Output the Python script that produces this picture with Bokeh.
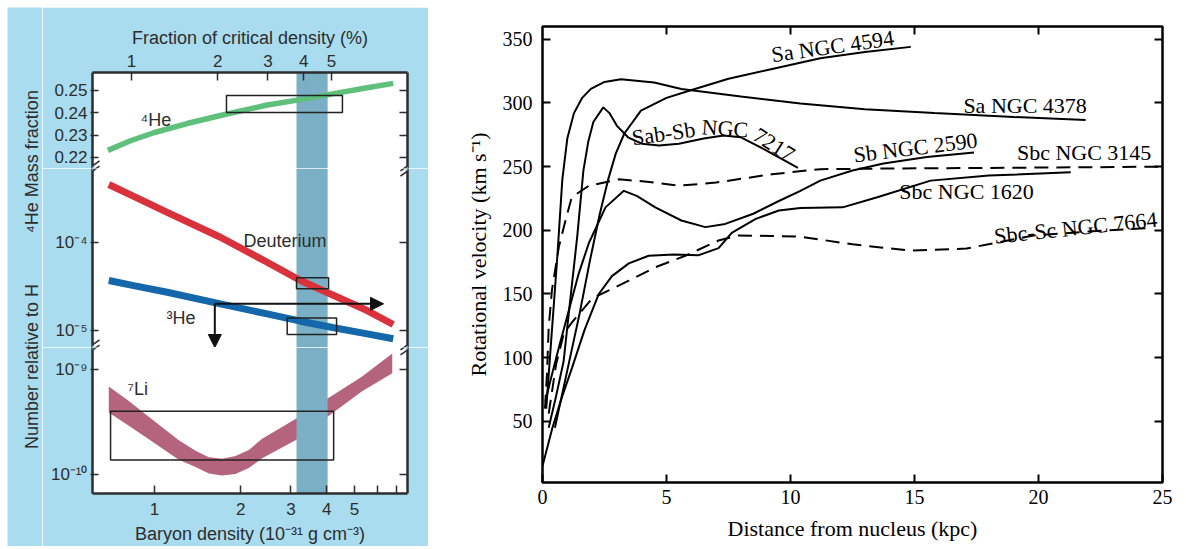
import math
import numpy as np
from bokeh.plotting import figure
from bokeh.layouts import row, column
from bokeh.models import (Range1d, LogScale, LinearAxis, LogAxis, FixedTicker,
                          CustomJSTickFormatter, BoxAnnotation, Arrow, NormalHead, Spacer)
from bokeh.embed import file_html
from bokeh.resources import INLINE
from bokeh.core.properties import value

# ---------------- data: left panel (big-bang nucleosynthesis) ----------------
he4_density = [0.687, 0.824, 1.0, 1.30, 1.70, 2.478, 3.239, 4.236, 5.543, 6.833]
he4_mass_fraction = [0.2232, 0.2275, 0.2312, 0.2352, 0.2388, 0.2435, 0.2459, 0.2486, 0.2512, 0.2532]

dh_density = [0.692, 0.846, 1.108, 1.70, 2.478, 3.239, 4.236, 5.543, 6.833]
deuterium = [4.56e-4, 3.35e-4, 2.20e-4, 1.148e-4, 5.97e-5, 3.70e-5, 2.50e-5, 1.686e-5, 1.17e-5]
helium3 = [3.70e-5, 3.24e-5, 2.72e-5, 2.01e-5, 1.545e-5, 1.276e-5, 1.074e-5, 9.16e-6, 8.05e-6]

li_density = [0.692, 0.813, 0.930, 1.216, 1.391, 1.549, 1.724, 1.919, 2.137, 2.379, 3.112, 4.07, 5.32, 6.78]
li7_upper = [6.85e-10, 4.99e-10, 3.75e-10, 2.12e-10, 1.69e-10, 1.47e-10, 1.42e-10, 1.51e-10, 1.72e-10,
             2.20e-10, 3.37e-10, 5.35e-10, 8.49e-10, 1.40e-9]
li7_lower = [3.89e-10, 2.92e-10, 2.28e-10, 1.39e-10, 1.19e-10, 1.03e-10, 0.986e-10, 1.02e-10, 1.16e-10,
             1.44e-10, 2.12e-10, 3.62e-10, 6.17e-10, 9.12e-10]

# observational boxes: left, right, bottom, top
he4_box = [1.785, 4.54, 0.2401, 0.2478]
d_box = [3.137, 4.06, 2.98e-5, 3.97e-5]
he3_box = [2.91, 4.33, 9.0e-6, 1.39e-5]
li_box = [0.702, 4.23, 1.38e-10, 4.0e-10]
band = [3.137, 4.03]
he3_arrow = [1.625, 6.32, 2.01e-5]      # x start, x end, y

he4_ticks = [0.22, 0.23, 0.24, 0.25]
mid_ticks = [1e-5, 1e-4]
li_ticks = [1e-10, 1e-9]
density_ticks = [1, 2, 3, 4, 5, 6, 7]
fraction_ticks = [1, 2, 3, 4, 5]
crit_conv = 0.831        # baryon density (1e-31 g/cm3) at 1% of critical density

# ---------------- data: right panel (rotation curves) ----------------
r_4378 = [0.15, 0.3, 0.45, 0.6, 0.8, 1.0, 1.27, 1.6, 1.95, 2.5, 3.16, 4.5, 5.6, 8.0, 10.4, 13.0, 15.8, 19.0, 21.9]
v_4378 = [60, 100, 140, 180, 240, 272, 292, 304, 311, 316.5, 318.6, 316, 311, 305, 299.5, 295, 292, 289, 286.5]
r_7217 = [0.25, 0.55, 0.85, 1.1, 1.4, 1.65, 1.85, 2.05, 2.45, 2.7, 3.0, 3.45, 4.0, 4.7, 5.5, 6.5, 7.3, 8.0, 9.0, 10.3]
v_7217 = [45, 70, 97, 142, 195, 247, 270, 285, 296.5, 292, 282, 273, 268, 266.5, 268, 272, 274.5, 273, 263, 249]
r_4594 = [0.5, 1.0, 1.5, 1.9, 2.3, 2.65, 2.95, 3.3, 3.97, 5.0, 5.98, 7.5, 9.35, 11.2, 13.0, 14.85]
v_4594 = [45, 90, 135, 175, 212, 240, 260, 276, 294, 304, 310, 319, 327, 335, 340, 344]
r_2590 = [0.12, 0.32, 0.66, 1.06, 1.46, 1.87, 2.54, 3.28, 3.8, 4.55, 5.6, 6.57, 7.37, 8.5, 9.53, 10.4, 11.2, 12.5, 13.75, 15.5, 17.4]
v_2590 = [66, 82, 108, 137, 166, 190, 218, 231, 227, 218, 207.7, 202.5, 205, 213, 223, 231, 239, 247, 252.5, 257.5, 261]
r_1620 = [0.0, 0.4, 0.8, 1.19, 1.7, 2.27, 2.8, 3.48, 4.28, 5.3, 6.3, 7.1, 7.63, 8.6, 9.53, 10.4, 12.1, 13.5, 15.65, 18.0, 21.3]
v_1620 = [15, 45, 70, 92, 122, 150, 164, 174, 180, 181, 180.5, 186, 198, 209, 215.5, 217.5, 218, 226, 239, 243, 245.5]
r_3145 = [0.1, 0.18, 0.25, 0.38, 0.66, 0.93, 1.18, 1.87, 3.08, 4.3, 5.5, 7.0, 9.25, 11.2, 14.0, 18.0, 22.0, 25.0]
v_3145 = [60, 87, 124, 153, 187, 208, 226, 235, 240, 238, 235, 237.5, 244, 248, 248.5, 249, 249.5, 250]
r_7664 = [0.25, 0.55, 0.86, 1.2, 2.0, 3.48, 4.55, 5.76, 7.1, 7.9, 9.25, 10.4, 12.5, 14.85, 17.1, 19.8, 22.0, 24.6]
v_7664 = [56, 95, 119, 128, 146.5, 160.5, 171, 180, 192, 196, 195.5, 195, 189, 184, 185.7, 196, 199, 202]

curve_labels = ["Sa NGC 4594", "Sa NGC 4378", "Sab-Sb", "NGC", "7217", "Sb NGC 2590",
                "Sbc NGC 3145", "Sbc NGC 1620", "Sbc-Sc NGC 7664"]
label_r = [11.70, 19.46, 4.88, 7.36, 9.33, 15.04, 21.84, 17.1, 21.5]
label_v = [344.5, 298, 276, 280, 267, 265, 261, 230.5, 202]
label_angle_deg = [8, 0, 8, -4, -32, 7, 0, 0, 6]

vel_ticks = [50, 100, 150, 200, 250, 300, 350]
dist_ticks = [0, 5, 10, 15, 20, 25]

# ---------------- styling ----------------
BG = "#a9dcef"
SHADOW = "#57a9d9"
BAND = "#7aafc6"
FRAME = "#2d2d2d"
GREEN = "#5ec07b"
RED = "#d9323c"
BLUE = "#1367aa"
LI = "#b4647d"
SANS = "Liberation Sans"
SERIF = "Liberation Serif"

x_lo, x_hi = 0.607, 7.666
top_lo, top_hi = 0.21507, 0.25806
mid_lo, mid_hi = 10 ** -5.193, 10 ** -3.159
bot_lo, bot_hi = 10 ** -10.176, 10 ** -8.796
FW = 315
LB, RB = 50, 21

xr = Range1d(x_lo, x_hi)

ppd_x = FW / math.log10(x_hi / x_lo)
def xd(px):
    return x_lo * 10 ** ((px - 92) / ppd_x)
def y_top(py):
    return top_hi - (py - 72) * (top_hi - top_lo) / 96
def y_mid(py):
    return 10 ** (math.log10(mid_hi) - (py - 168) * math.log10(mid_hi / mid_lo) / 179)
def y_bot(py):
    return 10 ** (math.log10(bot_hi) - (py - 347) * math.log10(bot_hi / bot_lo) / 149)

sup_code = """
const sup = {"-": "⁻", "0": "⁰", "1": "¹", "2": "²", "3": "³", "4": "⁴", "5": "⁵", "6": "⁶", "7": "⁷", "8": "⁸", "9": "⁹"};
const e = Math.round(Math.log10(tick));
return "10" + String(e).split("").map(c => sup[c]).join("");
"""
empty_code = 'return ""'


def style_axis(ax, tin=7, tout=0, size="17px"):
    ax.axis_line_width = 2.5
    ax.axis_line_color = FRAME
    ax.major_tick_line_color = FRAME
    ax.major_tick_line_width = 1.5
    ax.major_tick_in = tin
    ax.major_tick_out = tout
    ax.minor_tick_line_color = None
    ax.major_label_text_font = SANS
    ax.major_label_text_font_size = size
    ax.major_label_text_color = FRAME
    ax.axis_label_text_font = SANS
    ax.axis_label_text_font_size = "18px"
    ax.axis_label_text_font_style = "normal"
    ax.axis_label_text_color = FRAME


def make(h, yr, ytype, top=0, bottom=0, band_box=True):
    p = figure(width=LB + FW + RB, height=h, x_range=xr, y_range=yr,
               x_axis_type="log", y_axis_type=ytype,
               x_axis_location=None, y_axis_location=None,
               toolbar_location=None, output_backend="svg",
               min_border_left=LB, min_border_right=RB,
               min_border_top=top, min_border_bottom=bottom)
    p.grid.visible = False
    p.outline_line_color = None
    p.background_fill_color = "white"
    p.border_fill_color = BG
    if band_box:
        p.add_layout(BoxAnnotation(left=band[0], right=band[1], fill_color=BAND,
                                   fill_alpha=1, line_color=None, level="underlay"))
    return p


def add_y_axes(p, ticks, ytype, code):
    Axis = LogAxis if ytype == "log" else LinearAxis
    left = Axis(ticker=FixedTicker(ticks=ticks, minor_ticks=[]),
                formatter=CustomJSTickFormatter(code=code))
    style_axis(left, tin=6, tout=2)
    left.major_label_standoff = 3
    p.add_layout(left, "left")
    right = Axis(ticker=FixedTicker(ticks=ticks, minor_ticks=[]),
                 formatter=CustomJSTickFormatter(code=empty_code))
    style_axis(right, tin=8, tout=0, size="1px")
    right.major_label_standoff = 0
    p.add_layout(right, "right")


def add_box(p, b):
    p.quad(left=[b[0]], right=[b[1]], bottom=[b[2]], top=[b[3]],
           fill_color=None, line_color="#222222", line_width=1.5)


def add_label(p, x, y, t):
    p.text(x=[x], y=[y], text=[t], text_align="left", text_baseline="middle",
           text_font=value(SANS), text_font_size="18px", text_color=FRAME)


def breaks(p, yfun, py):
    for px in (92, 407):
        p.add_layout(Arrow(end=None, x_start=xd(px), y_start=yfun(py + 2.2),
                           x_end=xd(px), y_end=yfun(py - 2.2),
                           line_color=BG, line_width=4.5, level="overlay"))
        for off in (-2.6, 2.6):
            p.add_layout(Arrow(end=None, x_start=xd(px - 7), y_start=yfun(py + off + 5),
                               x_end=xd(px + 7), y_end=yfun(py + off - 5),
                               line_color=FRAME, line_width=1.5, level="overlay"))


def shadow(p, yfun, py1, py2):
    p.add_layout(BoxAnnotation(left=xd(408.5), right=xd(413.5), top=yfun(py1), bottom=yfun(py2),
                               fill_color=SHADOW, fill_alpha=1, line_color=None, level="underlay"))


# ---- top (4He) ----
top = make(161, Range1d(top_lo, top_hi), "linear", top=65)
top.extra_x_ranges = {"frac": Range1d(x_lo / crit_conv, x_hi / crit_conv)}
top.extra_x_scales = {"frac": LogScale()}
ax_top = LogAxis(x_range_name="frac", ticker=FixedTicker(ticks=fraction_ticks, minor_ticks=[]),
                 formatter=CustomJSTickFormatter(code="return tick.toFixed(0)"),
                 axis_label="Fraction of critical density (%)")
style_axis(ax_top, tin=8, tout=0)
ax_top.major_label_standoff = 6
ax_top.axis_label_standoff = 4
top.add_layout(ax_top, "above")
add_y_axes(top, he4_ticks, "linear", "return tick.toFixed(2)")
top.line(he4_density, he4_mass_fraction, line_width=5.5, color=GREEN)
add_box(top, he4_box)
add_label(top, xd(140), y_top(119), "⁴He")
shadow(top, y_top, 79, 172)
breaks(top, y_top, 168)

# ---- middle (D, 3He) ----
mid = make(179, Range1d(mid_lo, mid_hi), "log")
add_y_axes(mid, mid_ticks, "log", sup_code)
mid.line(dh_density, deuterium, line_width=7, color=RED)
mid.line(dh_density, helium3, line_width=7, color=BLUE)
add_box(mid, d_box)
add_box(mid, he3_box)
add_label(mid, xd(243), y_mid(240), "Deuterium")
add_label(mid, xd(166), y_mid(317), "³He")
mid.add_layout(Arrow(end=NormalHead(size=13, fill_color="#111111", line_color="#111111"),
                     x_start=he3_arrow[0], y_start=he3_arrow[2], x_end=he3_arrow[1], y_end=he3_arrow[2],
                     line_color="#111111", line_width=2))
mid.add_layout(Arrow(end=NormalHead(size=13, fill_color="#111111", line_color="#111111"),
                     x_start=he3_arrow[0], y_start=he3_arrow[2], x_end=he3_arrow[0], y_end=mid_lo,
                     line_color="#111111", line_width=2))
shadow(mid, y_mid, 166, 349)
breaks(mid, y_mid, 168)
breaks(mid, y_mid, 347)

# ---- bottom (7Li) ----
bot = make(199, Range1d(bot_lo, bot_hi), "log", bottom=50, band_box=False)
ax_bot = LogAxis(ticker=FixedTicker(ticks=density_ticks, minor_ticks=[]),
                 formatter=CustomJSTickFormatter(code='return tick < 5.5 ? tick.toFixed(0) : ""'),
                 axis_label="Baryon density (10⁻³¹ g cm⁻³)")
style_axis(ax_bot, tin=8, tout=0)
ax_bot.major_label_standoff = 9
ax_bot.axis_label_standoff = 6
bot.add_layout(ax_bot, "below")
add_y_axes(bot, li_ticks, "log", sup_code)
bot.varea(x=li_density, y1=li7_lower, y2=li7_upper, fill_color=LI)
bot.quad(left=[band[0]], right=[band[1]], bottom=[bot_lo], top=[bot_hi],
         fill_color=BAND, line_color=None)
add_box(bot, li_box)
add_label(bot, xd(127), y_bot(389), "⁷Li")
shadow(bot, y_bot, 345, 501)
bot.add_layout(BoxAnnotation(left=xd(97), right=xd(413.5), top=y_bot(497.5), bottom=y_bot(501.5),
                             fill_color=SHADOW, fill_alpha=1, line_color=None, level="underlay"))
breaks(bot, y_bot, 347)

# ---- vertical axis titles of the left panel ----
lab = figure(width=42 - 7, height=539, x_range=Range1d(0, 35), y_range=Range1d(0, 539),
             x_axis_location=None, y_axis_location=None, toolbar_location=None,
             output_backend="svg", min_border=0)
lab.grid.visible = False
lab.outline_line_color = None
lab.background_fill_color = BG
lab.border_fill_color = BG
lab.text(x=[24, 24], y=[546 - 161, 546 - 366], text=["⁴He Mass fraction", "Number relative to H"],
         angle=math.pi / 2, text_align="center", text_baseline="middle",
         text_font=value(SANS), text_font_size="18px", text_color=FRAME)

# ---------------- right panel ----------------
rp = figure(width=758, height=549, x_range=Range1d(0, 25), y_range=Range1d(2, 360),
            toolbar_location=None, output_backend="svg",
            min_border_left=114, min_border_right=24, min_border_top=26, min_border_bottom=67,
            x_axis_location=None, y_axis_location=None)
rp.grid.visible = False
rp.outline_line_color = "black"
rp.outline_line_width = 2.5
rp.background_fill_color = "white"
rp.border_fill_color = "white"


def rstyle(ax, size="20px"):
    ax.axis_line_color = None
    ax.major_tick_line_color = "black"
    ax.major_tick_line_width = 2
    ax.major_tick_in = 8
    ax.major_tick_out = 0
    ax.minor_tick_line_color = None
    ax.major_label_text_font = SERIF
    ax.major_label_text_font_size = size
    ax.major_label_text_color = "black"
    ax.axis_label_text_font = SERIF
    ax.axis_label_text_font_size = "22px"
    ax.axis_label_text_font_style = "normal"
    ax.axis_label_text_color = "black"


ax_l = LinearAxis(ticker=FixedTicker(ticks=vel_ticks), axis_label="Rotational velocity (km s⁻¹)")
rstyle(ax_l)
ax_l.major_label_standoff = 10
ax_l.axis_label_standoff = 9
rp.add_layout(ax_l, "left")
ax_b = LinearAxis(ticker=FixedTicker(ticks=dist_ticks), axis_label="Distance from nucleus (kpc)")
rstyle(ax_b)
ax_b.major_label_standoff = 7
ax_b.axis_label_standoff = 9
rp.add_layout(ax_b, "below")
ax_t = LinearAxis(ticker=FixedTicker(ticks=dist_ticks[1:-1]), formatter=CustomJSTickFormatter(code=empty_code))
rstyle(ax_t, size="1px")
ax_t.major_label_standoff = 0
rp.add_layout(ax_t, "above")
ax_r = LinearAxis(ticker=FixedTicker(ticks=vel_ticks), formatter=CustomJSTickFormatter(code=empty_code))
rstyle(ax_r, size="1px")
ax_r.major_label_standoff = 0
rp.add_layout(ax_r, "right")

for r, v in [(r_4378, v_4378), (r_7217, v_7217), (r_4594, v_4594), (r_2590, v_2590), (r_1620, v_1620)]:
    rp.line(r, v, line_width=2, color="black")
for r, v in [(r_3145, v_3145), (r_7664, v_7664)]:
    rp.line(r, v, line_width=2, color="black", line_dash="14 8")

rp.text(x=label_r, y=label_v, text=curve_labels, angle=[math.radians(a) for a in label_angle_deg],
        text_align="center", text_baseline="middle", text_font=value(SERIF),
        text_font_size="22px", text_color="black")

left_stack = column(top, mid, bot, spacing=0)
left_block = row(lab, left_stack, spacing=0)
left_col = column(Spacer(height=7, width=421), left_block, spacing=0)
layout = row(Spacer(width=7, height=549), left_col, rp, spacing=0)

open("out.html", "w").write(file_html(layout, INLINE))
